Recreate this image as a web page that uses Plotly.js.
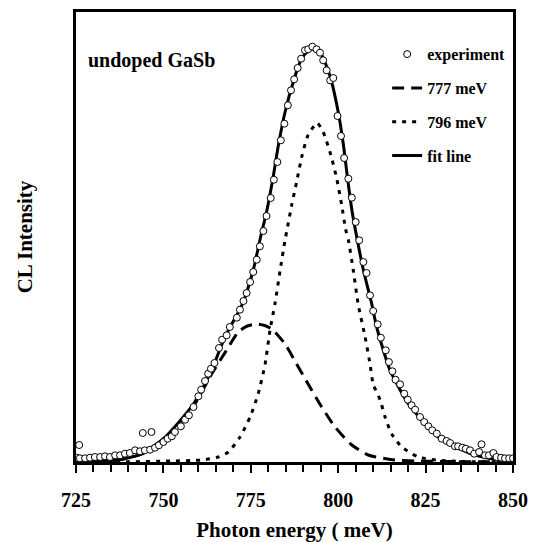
<!DOCTYPE html>
<html>
<head>
<meta charset="utf-8">
<script src="https://cdn.plot.ly/plotly-3.0.1.min.js"></script>
<style>html,body{margin:0;padding:0;background:#fff;}#chart{width:535px;height:542px;}</style>
</head>
<body>
<div id="chart"></div>
<script>
// Experimental CL spectrum (photon energy in meV, intensity in arbitrary units)
const expEnergy = [725.2,725.9,726.1,727.6,729.0,730.4,731.9,733.3,734.7,736.2,737.6,739.0,740.4,741.9,743.3,744.1,744.7,746.2,746.6,747.6,748.7,750.0,751.2,752.4,753.3,755.0,756.2,757.3,758.6,760.0,760.8,761.9,762.8,763.6,764.6,765.9,766.8,768.1,769.0,771.0,771.9,772.9,773.8,774.8,775.7,776.7,777.6,778.6,779.5,780.7,781.6,782.6,783.6,784.6,785.6,786.5,787.4,788.4,789.4,790.5,791.4,792.6,793.8,794.8,795.7,796.7,797.7,798.6,799.8,800.8,801.7,802.9,803.9,805.0,806.0,807.2,808.1,809.1,810.0,811.3,812.2,813.6,814.5,815.5,816.4,817.7,818.9,819.9,821.0,822.0,823.4,824.6,825.8,826.9,828.2,829.6,831.0,832.0,833.4,834.3,835.5,836.5,837.7,838.9,840.3,841.0,842.0,843.1,844.4,845.3,846.6,847.7,848.9,850.0];
const expIntensity = [4.3,17,3.7,3.7,4.3,5,5,5.7,5,6.7,6.7,8.3,9,11.7,10.7,29,11.7,12.3,30,14.3,16.7,20,23.3,25.7,30,35.7,42.3,46.7,55,65.7,72.3,81,88.3,93.3,99,114,122.3,126.7,135,144.3,152.3,161,169,180,190,202.3,215.7,231,246,264,282.3,300,321.7,338.3,356.7,371.7,382.7,394,403.3,411.7,412.7,415.3,412.7,409.3,401.7,391.7,381.7,384,346,326,304,283.3,264.3,240,221.7,200,189,166.7,151,137.7,124.3,111.7,100,90.7,82.3,77.7,68.3,62.3,56.7,52.3,45,40,35.7,31.7,28.3,23.3,21,19,15.7,15.7,14.3,13.3,11.7,8.3,10,17.7,6.7,6.7,9,5,4.3,3.7,3.7,3.7];

// 777 meV component (dashed)
const p777Energy = [725,730,737,743.8,750.5,758.6,763.8,768.1,771.4,774,776.7,779,781,784.8,788.1,791.4,795.3,799.1,803.9,808.6,815,822,830,840,850];
const p777Intensity = [0.3,0.8,2,8,24,56,88,112,130,136,138,136.5,133,118,98,78,55,35,17,7,2.5,1,0.5,0.2,0.1];

// 796 meV component (dotted)
const p796Energy = [725,740,752,761,765.7,768.6,771.9,774.8,777.1,779.1,780.5,781.9,783.4,784.8,785.4,786.7,788.1,789.7,791.4,794,795.7,797.9,799.6,801,802.1,802.9,804.3,805.7,807.7,809.1,810,812,813.4,815.3,818.2,822.9,828,835,850];
const p796Intensity = [0,0.2,1,2,5,10,25,45,68,98,132,158,192,222,233,257,280,307,327,339,330,307,283,257,233,222,192,158,125,98,78,62,45,28,15,5,2,0.5,0];

// Fit line (solid)
const fitEnergy = [725,730,737,743.8,750.5,758.6,763.8,767.6,772.6,775.7,777.8,779.5,781.3,782.9,784.8,787.4,789.1,790.5,792.5,795.1,796.2,797.9,800,801.5,802.7,804,805.3,807.2,809.6,811,814.8,820.1,828.6,838.2,845.7,850];
const fitIntensity = [0.3,0.8,2,8,25,58,92,125,158,192,225,250,283,317,350,383,400,408,413,408,400,383,350,317,283,250,225,192,158,135,92,58,25,8,2,1];

const names = ["experiment","777 meV","796 meV","fit line"];
const serif = "Liberation Serif, Times New Roman, serif";

const traces = [
  {x:p777Energy, y:p777Intensity, type:"scatter", mode:"lines", name:names[1], legendrank:2, legendgroup:"b",
   line:{color:"#000", width:3, dash:"12px,7px", shape:"spline", smoothing:0.6}},
  {x:p796Energy, y:p796Intensity, type:"scatter", mode:"lines", name:names[2], legendrank:3, legendgroup:"c",
   line:{color:"#000", width:3, dash:"4px,6px", shape:"spline", smoothing:0.6}},
  {x:fitEnergy, y:fitIntensity, type:"scatter", mode:"lines", name:names[3], legendrank:4, legendgroup:"d",
   line:{color:"#000", width:3, shape:"spline", smoothing:0.6}},
  {x:expEnergy, y:expIntensity, type:"scatter", mode:"markers", name:names[0], legendrank:1, legendgroup:"a",
   marker:{symbol:"circle", size:7, color:"#fff", line:{color:"#000", width:1}}}
];

const layout = {
  width:535, height:542,
  margin:{l:76, r:22, t:12, b:80},
  paper_bgcolor:"#fff", plot_bgcolor:"#fff",
  showlegend:true,
  legend:{x:0.712, y:0.944, xanchor:"left", yanchor:"top", traceorder:"grouped", tracegroupgap:10,
          bgcolor:"rgba(0,0,0,0)", font:{family:serif, size:16, color:"#000", weight:"bold"}},
  xaxis:{range:[725,850], tick0:725, dtick:25, ticks:"outside", ticklen:8, tickwidth:2, tickcolor:"#000",
         minor:{dtick:5, ticks:"outside", ticklen:7, tickwidth:2, tickcolor:"#000"},
         showline:true, linewidth:3, linecolor:"#000", mirror:true, showgrid:false, zeroline:false,
         ticklabelstandoff:10,
         tickfont:{family:serif, size:20, color:"#000", weight:"bold"},
         title:{text:"Photon energy ( meV)", standoff:14, font:{family:serif, size:21, color:"#000", weight:"bold"}}},
  yaxis:{range:[0,450], showticklabels:false, ticks:"", showline:true, linewidth:3, linecolor:"#000", mirror:true,
         showgrid:false, zeroline:false,
         title:{text:"CL Intensity", standoff:35, font:{family:serif, size:21, color:"#000", weight:"bold"}}},
  annotations:[{text:"undoped GaSb", xref:"paper", yref:"paper", x:0.024, y:0.893, xanchor:"left", yanchor:"middle",
                showarrow:false, font:{family:serif, size:20, color:"#000", weight:"bold"}}]
};

Plotly.newPlot("chart", traces, layout, {displayModeBar:false, staticPlot:true});
</script>
</body>
</html>
